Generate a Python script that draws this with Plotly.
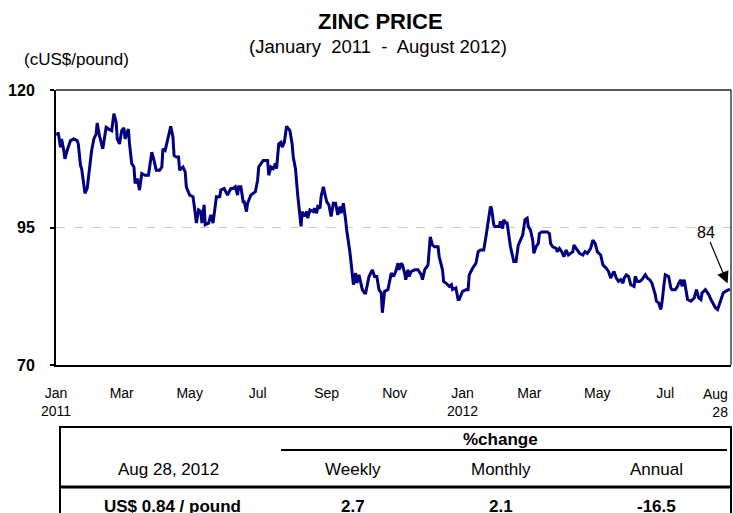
import pandas as pd
import plotly.graph_objects as go

# ---------------- data ----------------
start_date = "2011-01-01"
day_offsets = [1,2,4,5,7,8,10,13,16,19,20,22,23,25,26,28,30,32,34,36,
               37,39,42,43,45,48,50,52,54,55,57,59,61,62,65,66,68,70,71,73,
               75,77,80,83,86,88,90,93,95,96,98,99,101,103,105,106,108,110,111,114,
               116,117,120,123,125,126,128,130,131,133,134,137,139,141,144,147,148,151,154,157,
               159,161,163,164,166,168,169,171,172,175,179,181,182,184,186,189,190,191,193,195,
               197,198,200,202,203,205,207,210,212,213,215,217,219,220,221,223,225,226,228,231,
               232,234,235,237,238,240,241,243,245,247,249,251,253,255,256,258,260,261,264,265,
               267,269,270,272,273,275,277,278,281,
               284,286,288,290,292,293,295,298,299,301,303,305,307,308,310,311,313,314,316,317,
               319,322,325,328,329,331,334,336,338,340,343,344,347,348,350,353,355,356,359,361,
               362,365,368,370,371,374,377,379,381,384,386,388,390,391,393,394,396,398,399,401,
               402,404,405,407,408,411,413,415,417,419,421,423,424,426,428,429,431,433,434,436,
               438,441,443,444,446,449,450,452,454,456,458,460,462,464,465,467,470,473,475,477,
               480,482,484,486,489,491,494,496,498,500,501,503,505,507,509,510,512,514,516,519,
               520,522,524,526,529,531,533,535,538,539,541,543,544,546,547,550,552,553,556,558,
               559,561,562,564,565,567,570,573,575,577,579,580,583,585,586,588,590,592,594,595,
               597,599,601,605]
zinc_price = [111.7,112.3,109.6,111.1,109.0,107.5,109.0,110.8,111.1,110.8,
              110.2,106.3,105.7,102.4,101.2,102.1,105.4,109.0,111.1,112.0,
              114.0,111.7,109.3,110.8,113.2,112.8,112.6,115.7,114.1,111.1,
              110.2,112.6,113.1,111.1,112.9,110.2,106.6,106.0,103.0,103.9,
              101.8,104.8,104.5,104.5,108.7,107.2,105.4,105.4,106.0,109.3,
              109.0,109.9,112.0,113.4,111.4,108.1,107.8,107.8,105.4,106.0,
              105.1,102.4,100.9,100.6,97.6,95.8,98.2,97.9,95.8,99.1,
              95.5,95.8,97.3,95.8,100.6,100.6,101.8,102.1,100.9,102.1,
              102.1,102.4,100.9,102.4,102.4,99.7,99.7,97.9,99.4,100.9,
              101.5,103.6,106.0,106.6,107.2,107.2,107.2,104.5,106.0,105.7,
              106.6,105.7,110.2,110.5,109.6,110.5,113.4,112.6,110.2,107.8,
              105.7,100.9,97.0,95.2,97.9,97.0,97.9,96.7,98.2,97.9,
              98.5,97.6,98.8,98.5,100.6,102.4,101.5,99.7,99.1,97.0,
              99.4,99.4,97.3,98.8,97.6,99.4,96.4,94.5,90.3,87.9,
              84.6,86.7,84.9,86.4,85.5,83.7,83.1,83.1,86.1,
              87.3,86.1,86.1,83.7,83.1,79.5,83.4,83.7,84.9,86.7,
              86.1,87.0,88.5,87.3,88.5,88.2,86.7,85.5,87.3,86.1,
              87.0,87.3,87.3,86.4,85.5,87.3,88.2,93.3,91.8,91.5,
              91.5,89.7,87.3,85.2,84.9,84.3,84.6,83.7,84.0,81.9,
              81.9,83.4,83.7,83.7,86.4,87.6,88.5,90.6,90.9,90.9,
              93.3,95.8,98.8,98.5,95.5,95.2,95.2,95.2,96.1,94.8,
              96.4,95.8,95.8,92.7,91.5,88.8,88.8,91.8,92.7,93.6,
              96.4,96.7,95.2,94.5,92.7,90.3,91.5,92.1,93.9,94.2,
              94.2,94.2,93.9,92.1,91.5,91.2,90.6,91.2,90.6,89.7,
              90.9,90.0,90.3,90.6,91.8,91.2,90.3,90.0,90.6,90.3,
              91.2,92.7,92.1,90.6,90.0,88.2,87.6,87.0,85.8,86.7,
              87.0,85.8,85.2,85.5,84.9,85.8,86.4,86.1,84.6,84.3,
              86.1,85.2,85.2,85.5,86.4,85.8,85.5,84.9,82.8,81.6,
              81.3,80.1,81.3,84.9,86.4,86.1,84.0,83.7,83.7,84.3,
              84.9,85.5,84.3,85.5,84.0,81.9,81.6,82.2,83.7,82.2,
              81.9,83.1,83.7,83.1,82.8,81.9,81.0,80.4,80.1,80.7,
              81.6,83.1,83.4,83.8]

tick_dates = ["2011-01-01","2011-03-01","2011-05-01","2011-07-01","2011-09-01",
              "2011-11-01","2012-01-01","2012-03-01","2012-05-01","2012-07-01"]
tick_labels = ["Jan<br>2011","Mar","May","Jul","Sep","Nov","Jan<br>2012","Mar","May","Jul"]
end_label = "Aug<br>28"
y_ticks = [70, 95, 120]
last_label = "84"

title_text = "ZINC PRICE"
subtitle_text = "(January&nbsp; 2011&nbsp; -&nbsp; August 2012)"
unit_text = "(cUS$/pound)"
table_date = "Aug 28, 2012"
table_group = "%change"
table_headers = ["Weekly", "Monthly", "Annual"]
table_price = "US$ 0.84 / pound"
table_changes = ["2.7", "2.1", "-16.5"]

dates = pd.Timestamp(start_date) + pd.to_timedelta(day_offsets, unit="D")

# ---------------- layout helpers ----------------
W, H = 733, 513
L, R, T, B = 56, 2, 90, 148
PW, PH = W - L - R, H - T - B

def fx(px):
    return (px - L) / PW

def fy(py):
    return (H - B - py) / PH

ARIAL = "Liberation Sans, Arial, sans-serif"

def txt(size):
    return dict(size=size, family=ARIAL, color="black")

fig = go.Figure()
fig.add_trace(go.Scatter(x=dates, y=zinc_price, mode="lines",
                         line=dict(color="#000080", width=3), hoverinfo="skip"))

annotations = [
    dict(text="<b>" + title_text + "</b>", x=fx(380), y=fy(22), font=txt(22)),
    dict(text=subtitle_text, x=fx(378), y=fy(46), font=txt(18.5)),
    dict(text=unit_text, x=fx(22), y=fy(60), xanchor="left", font=txt(17)),
    dict(text=end_label, x=dates[-1], xref="x", y=fy(403), xanchor="right", align="right", font=txt(14)),
    dict(text="<b>" + table_group + "</b>", x=fx(501), y=fy(439), font=txt(17)),
    dict(text=table_date, x=fx(168), y=fy(469), font=txt(17)),
    dict(text="<b>" + table_price + "</b>", x=fx(172), y=fy(506), font=txt(17)),
]
for cx, h, c in zip([353, 501, 656], table_headers, table_changes):
    annotations.append(dict(text=h, x=fx(cx), y=fy(469), font=txt(17)))
    annotations.append(dict(text="<b>" + c + "</b>", x=fx(cx), y=fy(506), font=txt(17)))
for a in annotations:
    a.setdefault("xref", "paper")
    a["yref"] = "paper"
    a.setdefault("xanchor", "center")
    a["yanchor"] = "middle"
    a["showarrow"] = False

# arrow annotation to last point
annotations.append(dict(text=last_label, x=dates[-1], y=zinc_price[-1], xref="x", yref="y",
                        showarrow=True, ax=-24, ay=-57, arrowhead=2, arrowsize=2,
                        arrowwidth=1.2, arrowcolor="black", standoff=6, font=txt(16)))

shapes = [
    dict(type="line", xref="paper", yref="paper", x0=0, x1=1, y0=1, y1=1, line=dict(color="#222", width=1.3)),
    dict(type="line", xref="paper", yref="paper", x0=1, x1=1, y0=0, y1=1, line=dict(color="#222", width=1.3)),
    dict(type="rect", xref="paper", yref="paper", x0=fx(60), x1=fx(731), y0=fy(540), y1=fy(427),
         line=dict(color="black", width=2)),
    dict(type="line", xref="paper", yref="paper", x0=fx(281), x1=fx(727), y0=fy(450), y1=fy(450),
         line=dict(color="black", width=2)),
    dict(type="line", xref="paper", yref="paper", x0=fx(60), x1=fx(731), y0=fy(487), y1=fy(487),
         line=dict(color="black", width=3)),
]

fig.update_layout(
    width=W, height=H, margin=dict(l=L, r=R, t=T, b=B),
    plot_bgcolor="white", paper_bgcolor="white", showlegend=False,
    annotations=annotations, shapes=shapes,
    xaxis=dict(type="date", range=["2011-01-01", "2012-08-29"], tickvals=tick_dates, ticktext=tick_labels,
               showgrid=False, showline=True, linecolor="black", linewidth=2, ticks="",
               tickfont=txt(14), ticklabelstandoff=14, zeroline=False),
    yaxis=dict(range=[70, 120], tickvals=y_ticks, ticktext=["<b>%d</b>" % v for v in y_ticks],
               showgrid=True, gridcolor="#c8c8c8", griddash="dash", gridwidth=1,
               showline=True, linecolor="black", linewidth=2, ticks="outside", ticklen=4,
               tickcolor="black", tickwidth=1.5, zeroline=False,
               tickfont=txt(16), ticklabelstandoff=12),
)

fig.write_html("out.html", config={"displayModeBar": False},
               post_script="document.body.style.margin='0';")
